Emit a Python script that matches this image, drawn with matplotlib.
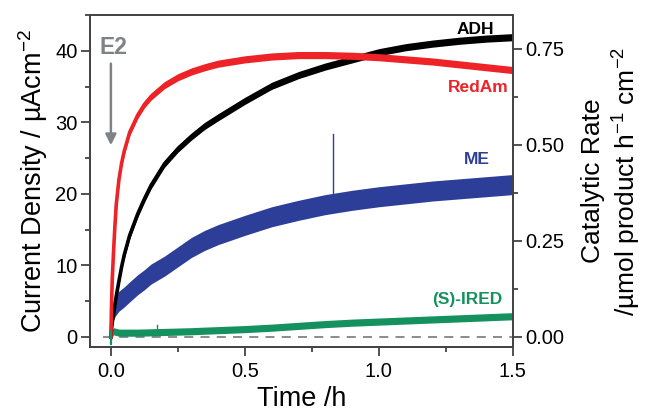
import matplotlib
matplotlib.use("Agg")
import matplotlib.pyplot as plt
from matplotlib.ticker import MultipleLocator, FormatStrFormatter

plt.rcParams['font.family'] = ['Liberation Sans', 'DejaVu Sans']
plt.rcParams['mathtext.fontset'] = 'custom'
plt.rcParams['mathtext.rm'] = 'Liberation Sans'
plt.rcParams['mathtext.it'] = 'Liberation Sans:italic'
plt.rcParams['mathtext.bf'] = 'Liberation Sans:bold'

# time points (h) and current density traces (uA cm-2)
time_h = [0, 0.002, 0.005, 0.01, 0.015, 0.02, 0.03, 0.04, 0.05, 0.07, 0.1,
          0.125, 0.15, 0.2, 0.25, 0.3, 0.35, 0.4, 0.5, 0.6, 0.7, 0.8, 0.9,
          1.0, 1.1, 1.2, 1.3, 1.4, 1.5]
redam = [0, 4, 8, 12, 15.5, 18.5, 22, 24.3, 26, 28.6, 31,
         32.5, 33.6, 35.2, 36.3, 37.1, 37.7, 38.2, 38.8, 39.2, 39.4, 39.4, 39.3,
         39.1, 38.8, 38.5, 38.1, 37.7, 37.3]
adh = [0, 1.0, 2.0, 3.2, 4.5, 5.7, 7.8, 9.8, 11.5, 14.2, 17.2,
       19.3, 21.2, 24.2, 26.3, 28, 29.5, 30.7, 33, 35.1, 36.6, 37.8, 38.8,
       39.8, 40.5, 41.0, 41.4, 41.7, 41.9]
me = [1.5, 2.3, 3.0, 3.8, 4.2, 4.5, 5.0, 5.3, 5.6, 6.3, 7.3,
      8.0, 8.8, 9.9, 11.2, 12.5, 13.5, 14.3, 15.6, 16.8, 17.7, 18.5, 19.1,
      19.6, 20.0, 20.4, 20.7, 21.0, 21.3]
ired = [-0.8, 0.2, 0.5, 0.8, 0.75, 0.7, 0.6, 0.6, 0.6, 0.6, 0.6,
        0.62, 0.65, 0.7, 0.75, 0.8, 0.88, 0.95, 1.1, 1.3, 1.55, 1.8, 2.0,
        2.15, 2.3, 2.45, 2.6, 2.75, 2.9]
# half width of the noise band of each trace
noise = {'RedAm': 0.5, 'ADH': 0.5, 'ME': 1.4, 'IRED': 0.5}
# single spikes seen in the traces: (time, low, high)
me_spike = (0.83, 18.0, 28.3)
ired_spike = (0.173, 0.7, 1.7)

c_red = '#ED2328'
c_black = '#000000'
c_blue = '#2D3E98'
c_green = '#14915F'
c_gray = '#808385'

fig = plt.figure(figsize=(6.46, 4.12), dpi=100)
ax = fig.add_axes([0.1393, 0.1578, 0.6547, 0.8058])

# zero reference line
ax.plot([-0.03, 1.5], [0, 0], color=c_gray, lw=1.3, ls=(0, (5, 4)), zorder=1)


def band(y, w):
    lo = [v - w for v in y]
    hi = [v + w for v in y]
    return lo, hi


for vals, key, col, lw in [(ired, 'IRED', c_green, 1.5), (me, 'ME', c_blue, 1.5),
                           (adh, 'ADH', c_black, 2.6), (redam, 'RedAm', c_red, 2.6)]:
    lo, hi = band(vals, noise[key])
    ax.fill_between(time_h, lo, hi, color=col, lw=0, zorder=2)
    ax.plot(time_h, vals, color=col, lw=lw, zorder=2, solid_joinstyle='round')

ax.plot([me_spike[0]] * 2, me_spike[1:], color=c_blue, lw=1.0, zorder=2)
ax.plot([ired_spike[0]] * 2, ired_spike[1:], color=c_green, lw=1.0, zorder=2)
ax.plot([0.001, 0.001], [-1.0, 0.8], color=c_green, lw=1.5, zorder=2)

ax.set_xlim(-0.078, 1.5)
ax.set_ylim(-1.4, 45)
ax.xaxis.set_major_locator(MultipleLocator(0.5))
ax.xaxis.set_minor_locator(MultipleLocator(0.25))
ax.xaxis.set_major_formatter(FormatStrFormatter('%.1f'))
ax.yaxis.set_major_locator(MultipleLocator(10))
ax.yaxis.set_minor_locator(MultipleLocator(5))


def style_ticks(a):
    a.tick_params(which='both', direction='out', width=1.2, colors='#333333',
                  labelcolor='black', labelsize=14.5, pad=2.5)
    a.tick_params(which='major', length=6.5)
    a.tick_params(which='minor', length=3.3)
    for s in a.spines.values():
        s.set_linewidth(1.3)
        s.set_color('#444444')


style_ticks(ax)
ax.tick_params(axis='x', which='both', pad=4)

ax.set_xlabel('Time /h', fontsize=19.5, labelpad=4)
ax.set_ylabel(r'Current Density / µAcm$^{-2}$', fontsize=19.5, labelpad=4)

# right axis: catalytic rate
scale = 40.3 / 0.75
ax2 = ax.twinx()
ax2.set_ylim(-1.4 / scale, 45 / scale)
ax2.yaxis.set_major_locator(MultipleLocator(0.25))
ax2.yaxis.set_minor_locator(MultipleLocator(0.125))
ax2.yaxis.set_major_formatter(FormatStrFormatter('%.2f'))
style_ticks(ax2)
ax2.set_ylabel('Catalytic Rate\n' + r'/µmol product h$^{-1}$ cm$^{-2}$',
               fontsize=19, labelpad=12, linespacing=1.25)

# trace labels
lab = dict(fontsize=12.5, fontweight='bold', ha='center', va='center')
ax.text(1.358, 43.0, 'ADH', color=c_black, **lab)
ax.text(1.37, 34.8, 'RedAm', color=c_red, **lab)
ax.text(1.366, 24.8, 'ME', color=c_blue, **lab)
ax.text(1.33, 5.2, '(S)-IRED', color=c_green, **lab)

# enzyme addition marker
ax.text(0.01, 40.4, 'E2', color=c_gray, fontsize=16.5, fontweight='bold',
        ha='center', va='center')
ax.annotate('', xy=(0, 26.8), xytext=(0, 38.2),
            arrowprops=dict(arrowstyle='-|>', color=c_gray, lw=1.8,
                            mutation_scale=16, shrinkA=0, shrinkB=0))

fig.savefig('out.png', dpi=100)
